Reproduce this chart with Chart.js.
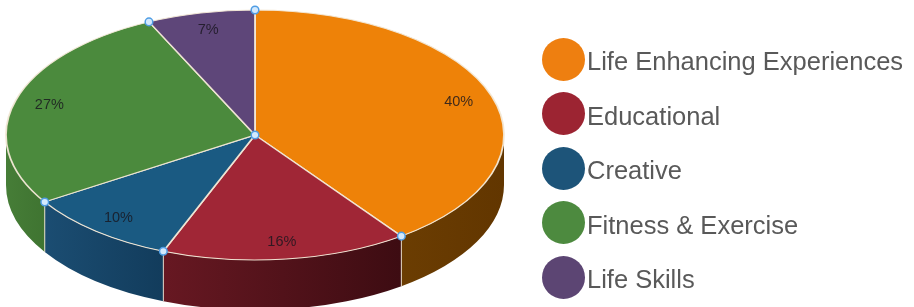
<!DOCTYPE html>
<html>
<head>
<meta charset="utf-8">
<script src="https://cdn.jsdelivr.net/npm/chart.js@4/dist/chart.umd.min.js"></script>
<style>
    html, body { margin: 0; padding: 0; background: #ffffff; }
    #wrap { position: relative; width: 914px; height: 307px; overflow: hidden; }
    #pieChart { position: absolute; left: 0; top: 0; }
    #legend { position: absolute; left: 542px; top: 32px; }
    .legend-item { display: flex; align-items: center; height: 54.5px; }
    .legend-dot { width: 43px; height: 43px; border-radius: 50%; flex: none; }
    .legend-text {
        margin-left: 2px; padding-top: 5px;
        font-family: "Liberation Sans", Arial, sans-serif; font-size: 25.5px;
        color: #595959; white-space: nowrap; line-height: 1;
    }
</style>
</head>
<body>
<div id="wrap">
    <canvas id="pieChart" width="914" height="307"></canvas>
    <div id="legend"></div>
</div>
<script>
const categories = ['Life Enhancing Experiences', 'Educational', 'Creative', 'Fitness & Exercise', 'Life Skills'];
const shares = [40, 16, 10, 27, 7];
const topColors = ['#ee8208', '#a02636', '#1a5a82', '#4b8a3d', '#5e4679'];
const sideColorsLeft = ['#6b3d02', '#671822', '#1b4d72', '#467d37', '#4a3760'];
const sideColorsRight = ['#623600', '#3d0c12', '#123c5c', '#3f7431', '#42305a'];
const legendColors = ['#ee7f10', '#9c2432', '#1d5479', '#4d8a3f', '#5c4573'];

// where the flattened pie sits on the page
const PIE_X = 255, PIE_Y = 135, PIE_RX = 249, PIE_RY = 125, PIE_DEPTH = 50;

function ellipsePoint(angle) {
    return { x: PIE_X + PIE_RX * Math.cos(angle), y: PIE_Y + PIE_RY * Math.sin(angle) };
}

const tiltPlugin = {
    id: 'tilt',
    beforeDatasetsDraw(chart) {
        const ctx = chart.ctx;
        const arcs = chart.getDatasetMeta(0).data;

        // side walls of the front half
        arcs.forEach(function (arc, i) {
            const a = Math.max(arc.startAngle, 0);
            const b = Math.min(arc.endAngle, Math.PI);
            if (b <= a) return;
            const p1 = ellipsePoint(a), p2 = ellipsePoint(b);
            const grad = ctx.createLinearGradient(Math.min(p1.x, p2.x), 0, Math.max(p1.x, p2.x), 0);
            grad.addColorStop(0, sideColorsLeft[i]);
            grad.addColorStop(1, sideColorsRight[i]);
            ctx.beginPath();
            ctx.ellipse(PIE_X, PIE_Y, PIE_RX, PIE_RY, 0, a, b, false);
            ctx.ellipse(PIE_X, PIE_Y + PIE_DEPTH, PIE_RX, PIE_RY, 0, b, a, true);
            ctx.closePath();
            ctx.fillStyle = grad;
            ctx.fill();
        });

        // seams on the side wall
        ctx.save();
        ctx.strokeStyle = 'rgba(240, 228, 210, 0.9)';
        ctx.lineWidth = 1;
        arcs.forEach(function (arc) {
            const s = arc.startAngle;
            if (s <= 0 || s >= Math.PI) return;
            const p = ellipsePoint(s);
            ctx.beginPath();
            ctx.moveTo(p.x, p.y);
            ctx.lineTo(p.x, p.y + PIE_DEPTH);
            ctx.stroke();
        });
        ctx.restore();

        // squash the library's circle into the top face
        const first = arcs[0];
        const r = first.outerRadius;
        ctx.save();
        ctx.translate(PIE_X, PIE_Y);
        ctx.scale(PIE_RX / r, PIE_RY / r);
        ctx.translate(-first.x, -first.y);
    },
    afterDatasetsDraw(chart) {
        const ctx = chart.ctx;
        ctx.restore();
        const arcs = chart.getDatasetMeta(0).data;
        const values = chart.data.datasets[0].data;

        // percentage labels
        ctx.save();
        ctx.font = '14.5px "Liberation Sans", Arial, sans-serif';
        ctx.fillStyle = 'rgba(25, 22, 30, 0.82)';
        ctx.textAlign = 'center';
        ctx.textBaseline = 'middle';
        arcs.forEach(function (arc, i) {
            const mid = (arc.startAngle + arc.endAngle) / 2;
            const x = PIE_X + PIE_RX * 0.86 * Math.cos(mid);
            const y = PIE_Y + PIE_RY * 0.86 * Math.sin(mid);
            ctx.fillText(values[i] + '%', x, y);
        });
        ctx.restore();

        // selection handles
        const handles = [{ x: PIE_X, y: PIE_Y }];
        arcs.forEach(function (arc) {
            handles.push(ellipsePoint(arc.startAngle));
        });
        ctx.save();
        ctx.fillStyle = '#d3e9fd';
        ctx.strokeStyle = '#4f9de4';
        ctx.lineWidth = 1.5;
        handles.forEach(function (h) {
            ctx.beginPath();
            ctx.arc(h.x, h.y, 3.8, 0, Math.PI * 2);
            ctx.fill();
            ctx.stroke();
        });
        ctx.restore();
    }
};

const ctx = document.getElementById('pieChart').getContext('2d');
new Chart(ctx, {
    type: 'pie',
    data: {
        labels: categories,
        datasets: [{
            data: shares,
            backgroundColor: topColors,
            borderColor: 'rgba(242, 232, 214, 0.95)',
            borderWidth: 1.3
        }]
    },
    options: {
        responsive: false,
        animation: false,
        events: [],
        radius: 176,
        layout: { padding: 0 },
        plugins: {
            legend: { display: false },
            tooltip: { enabled: false }
        }
    },
    plugins: [tiltPlugin]
});

// legend
const legendEl = document.getElementById('legend');
categories.forEach(function (name, i) {
    const item = document.createElement('div');
    item.className = 'legend-item';
    const dot = document.createElement('span');
    dot.className = 'legend-dot';
    dot.style.background = legendColors[i];
    const text = document.createElement('span');
    text.className = 'legend-text';
    text.textContent = name;
    item.appendChild(dot);
    item.appendChild(text);
    legendEl.appendChild(item);
});
</script>
</body>
</html>
